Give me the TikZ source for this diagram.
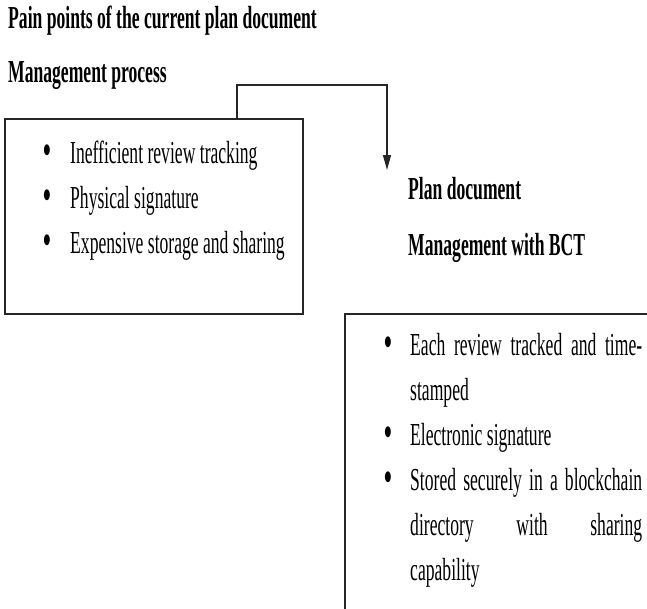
\documentclass[tikz,border=0pt]{standalone}
\usepackage{fontspec}
\setmainfont[FakeStretch=0.55]{Liberation Serif}
\usetikzlibrary{arrows.meta}
\begin{document}
\begin{tikzpicture}[x=1pt,y=-1pt,
  txt/.style={anchor=base west, inner sep=0pt, font=\fontsize{32}{34}\selectfont},
  head/.style={anchor=base west, inner sep=0pt, font=\fontsize{32}{34}\selectfont\bfseries},
  bul/.style={anchor=base, inner sep=0pt, font=\fontsize{40}{40}\selectfont\bfseries},
  frame/.style={draw=black!85, line width=1.3pt, rectangle, inner sep=0pt},
  link/.style={draw=black!85, line width=1.3pt, -{Triangle[length=15pt,width=8pt]}}]
\clip (0,0) rectangle (647,608);
% headings
\node[head] (t1) at (8,28) {Pain points of the current plan document};
\node[head] (t2) at (8,82) {Management process};
\node[head] (t3) at (408,199) {Plan document};
\node[head] (t4) at (408,255) {Management with BCT};
% left box
\node[frame, minimum width=298pt, minimum height=195pt] (lbox) at (154,216.5) {};
\node[bul] (b1) at (47,163) {•};
\node[txt] (l1) at (70,163) {Inefficient review tracking};
\node[bul] (b2) at (47,208) {•};
\node[txt] (l2) at (70,208) {Physical signature};
\node[bul] (b3) at (47,253) {•};
\node[txt] (l3) at (70,253) {Expensive storage and sharing};
% right box
\node[frame, minimum width=360pt, minimum height=340pt] (rbox) at (525,484) {};
\node[bul] (c1) at (388,355) {•};
\node[txt] (r1) at (410,355) {\makebox[232pt][s]{Each review tracked and time-}};
\node[txt] (r2) at (410,400) {stamped};
\node[bul] (c2) at (388,445) {•};
\node[txt] (r3) at (410,445) {Electronic signature};
\node[bul] (c3) at (388,490) {•};
\node[txt] (r4) at (410,490) {\makebox[232pt][s]{Stored securely in a blockchain}};
\node[txt] (r5) at (410,535) {\makebox[232pt][s]{directory with sharing}};
\node[txt] (r6) at (410,580) {capability};
% connector
\coordinate (src) at (237,119);
\coordinate (elbow) at (387,85);
\coordinate (tip) at (387,170);
\draw[link] (src) |- (elbow) -- (tip);
\end{tikzpicture}
\end{document}
